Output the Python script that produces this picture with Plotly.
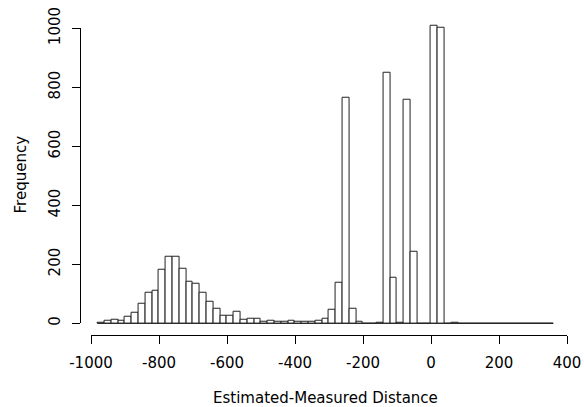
import plotly.graph_objects as go

# ---- data ----
bin_start = -980
bin_width = 20
counts = [3, 8, 11, 8, 22, 36, 68, 104, 110, 182,
          227, 227, 185, 141, 133, 102, 72, 51, 26, 26,
          40, 11, 14, 14, 4, 10, 7, 4, 10, 7,
          7, 4, 10, 14, 46, 137, 765, 51, 7, 0,
          0, 2, 851, 154, 3, 759, 243, 0, 0, 1009,
          1001, 0, 3, 0, 0, 0, 0, 0, 0, 0,
          0, 0, 0, 0, 0, 0, 0]
x_ticks = [-1000, -800, -600, -400, -200, 0, 200, 400]
y_ticks = [0, 200, 400, 600, 800, 1000]
x_title = "Estimated-Measured Distance"
y_title = "Frequency"

edges = [bin_start + i * bin_width for i in range(len(counts) + 1)]
centers = [e + bin_width / 2 for e in edges[:-1]]

# ---- layout geometry (pixels) ----
W, H = 584, 407
FONT = "DejaVu Sans"
FS = 15

xlo, xhi = edges[0], edges[-1]
xpad = (xhi - xlo) * 0.04
ylo, yhi = 0, max(counts)
ypad = (yhi - ylo) * 0.04

px_per_x = (567 - 91) / 1400.0
px_per_y = 295 / 1000.0
x0_px = 91 + (xlo - xpad - (-1000)) * px_per_x
x1_px = 91 + (xhi + xpad - (-1000)) * px_per_x
y0_px = 323.3 + ypad * px_per_y
y1_px = 323.3 - (yhi + ypad) * px_per_y

def fx(p):
    return p / W

def fy(p):
    return 1 - p / H

fig = go.Figure()
fig.add_trace(go.Bar(
    x=centers, y=counts, width=bin_width,
    marker=dict(color="white", line=dict(color="#222222", width=1)),
    hoverinfo="x+y", xaxis="x", yaxis="y",
))
fig.add_trace(go.Scatter(
    x=[edges[0], edges[-1]], y=[0, 0], mode="lines",
    line=dict(color="#222222", width=1), hoverinfo="skip",
    xaxis="x", yaxis="y", showlegend=False,
))
fig.add_trace(go.Scatter(
    x=[x_ticks[0], x_ticks[-1]], y=[y_ticks[0], y_ticks[-1]], mode="markers",
    marker=dict(opacity=0), hoverinfo="skip", xaxis="x2", yaxis="y2",
    showlegend=False,
))

tick_common = dict(ticks="outside", ticklen=8, tickwidth=1, tickcolor="black",
                   showline=True, linecolor="black", linewidth=1,
                   showgrid=False, zeroline=False, automargin=False,
                   tickfont=dict(family=FONT, size=FS, color="black"))

fig.update_layout(
    template="none",
    width=W, height=H,
    margin=dict(l=0, r=0, t=0, b=0, pad=0),
    paper_bgcolor="white", plot_bgcolor="rgba(0,0,0,0)",
    showlegend=False, bargap=0,
    font=dict(family=FONT, size=FS, color="black"),
    xaxis=dict(domain=[fx(x0_px), fx(x1_px)], range=[xlo - xpad, xhi + xpad],
               visible=False, fixedrange=True, automargin=False),
    yaxis=dict(domain=[fy(y0_px), fy(y1_px)], range=[ylo - ypad, yhi + ypad],
               visible=False, fixedrange=True, automargin=False),
    xaxis2=dict(domain=[fx(91), fx(567)], range=[x_ticks[0], x_ticks[-1]],
                anchor="free", position=fy(y0_px),
                tickvals=x_ticks, ticktext=[str(v) for v in x_ticks],
                ticklabelstandoff=6, **tick_common),
    yaxis2=dict(domain=[fy(323.3), fy(28.3)], range=[y_ticks[0], y_ticks[-1]],
                anchor="free", position=fx(x0_px),
                tickvals=y_ticks, ticktext=[str(v) for v in y_ticks],
                tickangle=-90, ticklabelstandoff=6, **tick_common),
    annotations=[
        dict(text=x_title, xref="paper", yref="paper",
             x=fx((x0_px + x1_px) / 2), y=fy(398), xanchor="center", yanchor="middle",
             showarrow=False, font=dict(family=FONT, size=FS, color="black")),
        dict(text=y_title, xref="paper", yref="paper", textangle=-90,
             x=fx(21), y=fy((y0_px + y1_px) / 2), xanchor="center", yanchor="middle",
             showarrow=False, font=dict(family=FONT, size=FS, color="black")),
    ],
)

fig.write_html("out.html")
